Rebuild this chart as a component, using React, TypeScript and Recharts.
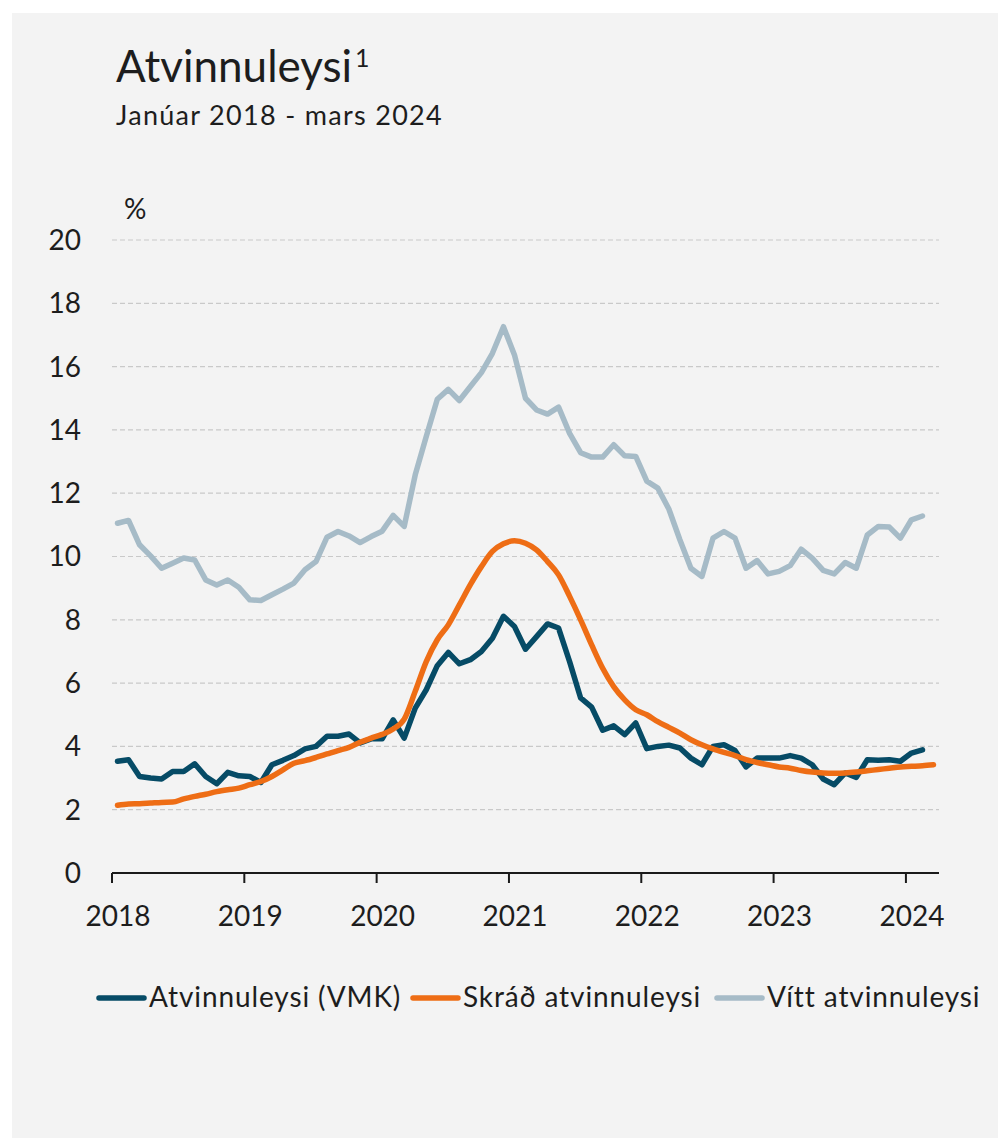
import { LineChart, Line, XAxis, YAxis, CartesianGrid } from 'recharts';

// Jan 2018 - Mar 2024, monthly. VMK and "vítt" end in Feb 2024.
const startYear = 2018;
const yearTicks = [0, 12, 24, 36, 48, 60, 72];
const yTicks = [0, 2, 4, 6, 8, 10, 12, 14, 16, 18, 20];

const vmk = [
  3.53, 3.58, 3.05, 3.0, 2.97, 3.21, 3.21, 3.45, 3.05, 2.82, 3.18, 3.07,
  3.05, 2.86, 3.42, 3.56, 3.71, 3.92, 4.0, 4.32, 4.32, 4.39, 4.11, 4.24,
  4.24, 4.84, 4.26, 5.21, 5.79, 6.55, 6.97, 6.61, 6.74, 7.0, 7.42, 8.11,
  7.79, 7.07, 7.47, 7.87, 7.74, 6.68, 5.53, 5.24, 4.51, 4.65, 4.37, 4.74,
  3.93, 4.0, 4.04, 3.95, 3.63, 3.42, 4.0, 4.05, 3.87, 3.35, 3.63, 3.63,
  3.63, 3.71, 3.63, 3.42, 2.97, 2.79, 3.16, 3.02, 3.58, 3.56, 3.58, 3.53,
  3.79, 3.89,
];

const skrad = [
  2.14, 2.18, 2.19, 2.21, 2.23, 2.24, 2.34, 2.42, 2.49, 2.57, 2.63, 2.68,
  2.79, 2.89, 3.05, 3.26, 3.47, 3.55, 3.65, 3.76, 3.87, 3.97, 4.13, 4.26,
  4.38, 4.55, 4.86, 5.74, 6.68, 7.37, 7.84, 8.47, 9.11, 9.68, 10.16, 10.4,
  10.5, 10.42, 10.21, 9.84, 9.42, 8.74, 8.0, 7.21, 6.47, 5.89, 5.47, 5.16,
  5.0, 4.78, 4.6, 4.42, 4.21, 4.05, 3.92, 3.81, 3.71, 3.58, 3.49, 3.42,
  3.35, 3.31, 3.24, 3.19, 3.16, 3.15, 3.16, 3.19, 3.23, 3.27, 3.31, 3.35,
  3.37, 3.39, 3.42,
];

const vitt = [
  11.05, 11.14, 10.37, 10.02, 9.63, 9.79, 9.95, 9.89, 9.26, 9.1, 9.26, 9.03,
  8.63, 8.61, 8.79, 8.97, 9.16, 9.58, 9.84, 10.61, 10.79, 10.65, 10.44, 10.63,
  10.8, 11.3, 10.95, 12.58, 13.79, 14.97, 15.28, 14.93, 15.37, 15.81, 16.42, 17.26,
  16.37, 15.0, 14.63, 14.5, 14.72, 13.89, 13.28, 13.14, 13.14, 13.53, 13.18, 13.16,
  12.38, 12.16, 11.5, 10.53, 9.63, 9.37, 10.58, 10.79, 10.58, 9.63, 9.87, 9.45,
  9.53, 9.71, 10.23, 9.95, 9.56, 9.45, 9.81, 9.63, 10.68, 10.95, 10.93, 10.58,
  11.16, 11.28,
];

const series = [
  { key: 'vitt', name: 'Vítt atvinnuleysi', color: '#a6bbc7', type: 'linear' },
  { key: 'vmk', name: 'Atvinnuleysi (VMK)', color: '#064b66', type: 'linear' },
  { key: 'skrad', name: 'Skráð atvinnuleysi', color: '#ee6d15', type: 'monotone' },
];

const legendItems = [
  { name: 'Atvinnuleysi (VMK)', color: '#064b66', x: 96 },
  { name: 'Skráð atvinnuleysi', color: '#ee6d15', x: 410 },
  { name: 'Vítt atvinnuleysi', color: '#a6bbc7', x: 714 },
];

const data = skrad.map((v, i) => ({ t: i + 0.5, skrad: v, vmk: vmk[i], vitt: vitt[i] }));

const font = 'Lato, "Open Sans", sans-serif';
const ink = '#1d1d1d';

const YearTick = ({ x, y, payload }) => (
  <text x={x + 6} y={y} dy="0.71em" textAnchor="middle" fill={ink} fontSize={28} fontFamily={font}>
    {startYear + payload.value / 12}
  </text>
);

export default function App() {
  return (
    <div style={{ position: 'absolute', left: 0, top: 0, width: 998, height: 1138, background: '#fff', fontFamily: font }}>
      <div style={{ position: 'absolute', left: 12, top: 13, width: 986, height: 1125, background: '#f3f3f3' }} />
      <div style={{ position: 'absolute', left: 0, top: 0 }}>
        <LineChart width={998} height={1138} data={data} margin={{ top: 240, right: 59, left: 52, bottom: 205 }}>
          <CartesianGrid vertical={false} stroke="#c9c9c9" strokeDasharray="5 3" strokeWidth={1.2} />
          <XAxis
            dataKey="t"
            type="number"
            domain={[0, 75]}
            ticks={yearTicks}
            height={60}
            tickSize={10}
            tickMargin={23}
            tick={YearTick}
            axisLine={{ stroke: '#1a1a1a', strokeWidth: 2 }}
            tickLine={{ stroke: '#1a1a1a', strokeWidth: 2 }}
          />
          <YAxis
            domain={[0, 20]}
            ticks={yTicks}
            width={60}
            axisLine={false}
            tickLine={false}
            tickMargin={25}
            tick={{ fill: ink, fontSize: 28, fontFamily: font }}
          />
          {series.map((s) => (
            <Line
              key={s.key}
              dataKey={s.key}
              name={s.name}
              type={s.type}
              stroke={s.color}
              strokeWidth={5.5}
              strokeLinejoin="round"
              strokeLinecap="round"
              dot={false}
              activeDot={false}
              isAnimationActive={false}
            />
          ))}
        </LineChart>
      </div>
      <svg width={998} height={1138} style={{ position: 'absolute', left: 0, top: 0, pointerEvents: 'none' }}>
        <text x={116} y={82} fill={ink} fontSize={44} fontFamily={font}>
          Atvinnuleysi
          <tspan fontSize={25} dx={3} dy={-15}>1</tspan>
        </text>
        <text x={116} y={125} fill={ink} fontSize={27} letterSpacing={1.3} fontFamily={font}>Janúar 2018 - mars 2024</text>
        <text x={124} y={219} fill={ink} fontSize={28} fontFamily={font}>%</text>
        {legendItems.map((l) => (
          <g key={l.name}>
            <line x1={l.x + 3} x2={l.x + 48} y1={998} y2={998} stroke={l.color} strokeWidth={5.5} strokeLinecap="round" />
            <text x={l.x + 53} y={1007} fill={ink} fontSize={28} letterSpacing={0.9} fontFamily={font}>{l.name}</text>
          </g>
        ))}
      </svg>
    </div>
  );
}
